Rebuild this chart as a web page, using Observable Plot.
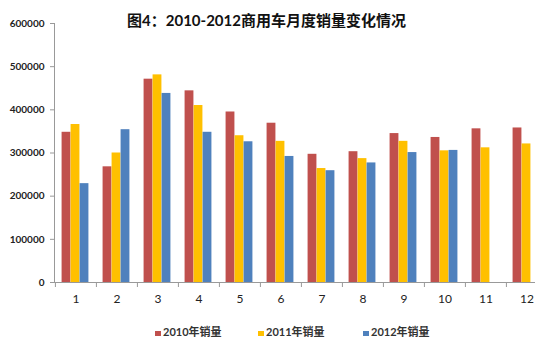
<!DOCTYPE html>
<html>
<head>
<meta charset="utf-8">
<script src="https://cdn.jsdelivr.net/npm/d3@7"></script>
<script src="https://cdn.jsdelivr.net/npm/@observablehq/plot@0.6"></script>
<style>
  html, body { margin: 0; padding: 0; background: #fff; }
  #wrap { position: relative; width: 548px; height: 354px; overflow: hidden; font-family: Lato, "Noto Sans CJK SC", sans-serif; }
  #title { position: absolute; left: 0; top: 9px; width: 533px; text-align: center; font-size: 15px; line-height: 22px; font-weight: bold; color: #111; font-family: Lato, "Noto Sans CJK SC", sans-serif; }
  .leg { position: absolute; top: 325px; font-size: 11px; line-height: 14px; font-weight: bold; color: #333; white-space: nowrap; display: flex; align-items: center; }
  .sw { display: inline-block; width: 6px; height: 5px; margin-right: 2px; margin-top: 2px; }
</style>
</head>
<body>
<div id="wrap">
  <div id="chart"></div>
  <div id="title"></div>
  <div id="legend"></div>
</div>
<script>
const titleText = "图4：2010-2012商用车月度销量变化情况";
const months = [1, 2, 3, 4, 5, 6, 7, 8, 9, 10, 11, 12];
const years = ["2010年销量", "2011年销量", "2012年销量"];
const colors = ["#C0504D", "#FFC000", "#4F81BD"];
const sales2010 = [348000, 268000, 471000, 444000, 395000, 369000, 297000, 303000, 345000, 336000, 356000, 358000];
const sales2011 = [366000, 300000, 481000, 410000, 340000, 327000, 264000, 287000, 327000, 305000, 312000, 321000];
const sales2012 = [229000, 354000, 438000, 348000, 326000, 292000, 259000, 277000, 301000, 306000, null, null];
const yTicks = [0, 100000, 200000, 300000, 400000, 500000, 600000];

const seriesValues = [sales2010, sales2011, sales2012];
const rows = [];
years.forEach((y, k) => months.forEach((m, i) => {
  if (seriesValues[k][i] != null) rows.push({month: m, year: y, value: seriesValues[k][i], k});
}));

const W = 548, H = 354, mL = 54, mR = 0, mT = 23, mB = 72;
const bw = (W - mL - mR) / months.length;
const barW = 9;
const off = (bw - 3 * barW) / 2;

const barMarks = years.map((y, k) => Plot.barY(rows.filter(d => d.k === k), {
  x: "month", y: "value", fill: colors[k],
  insetLeft: off + k * barW - 0.5,
  insetRight: bw - off - (k + 1) * barW + 0.5
}));

const chart = Plot.plot({
  width: W, height: H,
  marginLeft: mL, marginRight: mR, marginTop: mT, marginBottom: mB,
  style: {fontFamily: "Lato, 'Noto Sans CJK SC', sans-serif", background: "#fff"},
  x: {type: "band", domain: months, padding: 0, axis: null, label: null},
  y: {domain: [0, 600000], axis: null, label: null},
  marks: [
    ...barMarks,
    Plot.frame({anchor: "left", stroke: "#999"}),
    Plot.ruleY([0], {stroke: "#999", insetRight: 13}),
    Plot.ruleX(months, {x: d => d, y1: 0, y2: 0, dx: -bw / 2, insetTop: 5, stroke: "#999"}),
    Plot.axisY({ticks: yTicks, tickSize: 4, tickPadding: 6, tickFormat: d => String(d), label: null,
      fontSize: 10, fontWeight: "bold", fill: "#222", stroke: "#999"}),
    Plot.axisX({tickSize: 0, tickPadding: 12, fontSize: 12, fill: "#222", label: null})
  ]
});
document.getElementById("chart").appendChild(chart);
document.getElementById("title").textContent = titleText;

const legendLeft = [155, 258, 363];
const legend = document.getElementById("legend");
years.forEach((y, k) => {
  const item = document.createElement("div");
  item.className = "leg";
  item.style.left = legendLeft[k] + "px";
  const sw = document.createElement("span");
  sw.className = "sw";
  sw.style.background = colors[k];
  const t = document.createElement("span");
  t.textContent = y;
  item.appendChild(sw);
  item.appendChild(t);
  legend.appendChild(item);
});
</script>
</body>
</html>
